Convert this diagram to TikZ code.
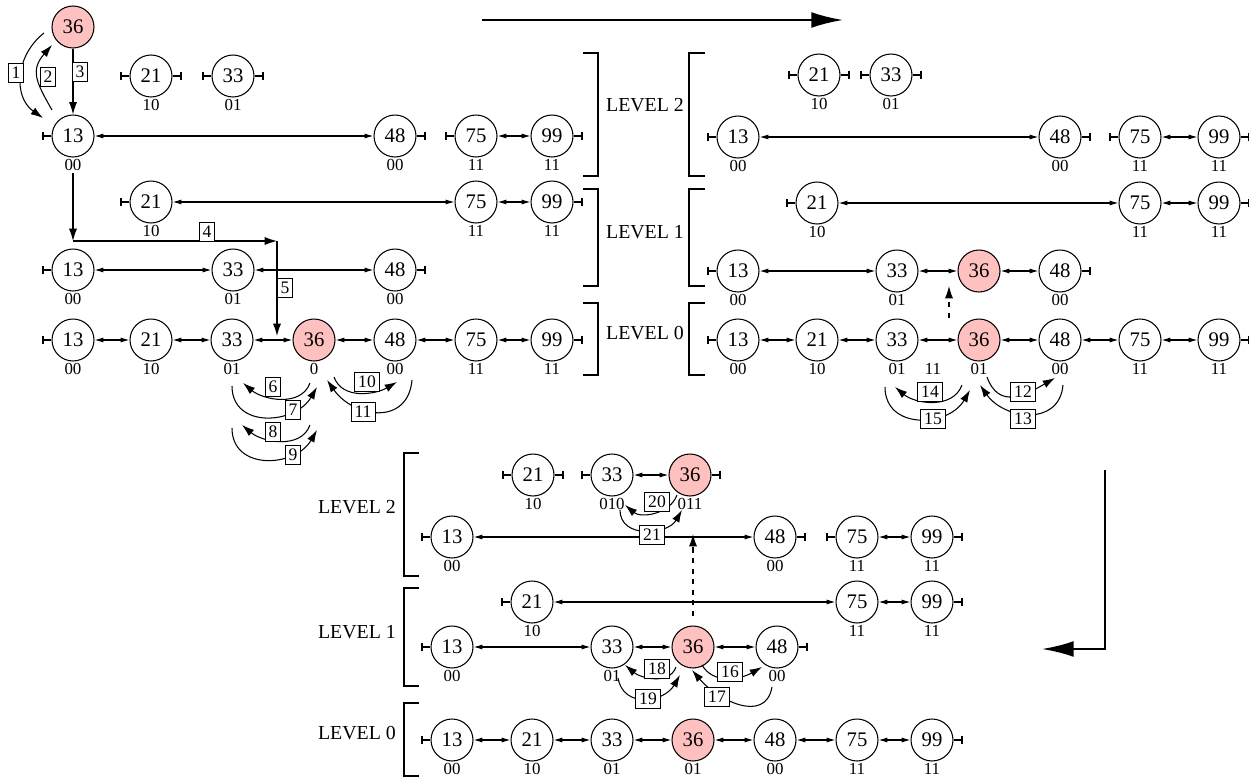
\documentclass[tikz,border=0pt]{standalone}
\usepackage{fontspec}
\setmainfont{Liberation Serif}
\usetikzlibrary{arrows.meta,calc}
\definecolor{hitpink}{RGB}{255,192,192}
\tikzset{
  key/.style={circle,draw,line width=0.6pt,minimum size=0.84cm,inner sep=0pt,font=\fontsize{11.8}{12}\selectfont},
  hit/.style={key,fill=hitpink},
  lab/.style={font=\fontsize{9.6}{10}\selectfont,inner sep=0.6pt},
  tag/.style={draw,fill=white,line width=0.5pt,inner sep=2pt,font=\fontsize{10}{10}\selectfont},
  lvl/.style={font=\fontsize{11.3}{12}\selectfont},
  link/.style={line width=0.6pt,{Latex[length=5pt,width=2.8pt]}-{Latex[length=5pt,width=2.8pt]}},
  move/.style={line width=0.6pt,-{Latex[length=7pt,width=4.6pt]}},
  lift/.style={move,dash pattern=on 3pt off 3pt},
  big/.style={line width=1.2pt,-{Latex[length=18pt,width=9pt]}},
  lend/.style={line width=0.6pt,-{Bar[width=5pt]}},
  brace/.style={line width=0.6pt}
}
\begin{document}
\begin{tikzpicture}[x=0.02cm,y=-0.02cm]
\useasboundingbox (0,0) rectangle (1249,781);
% left panel
\node[hit] (Ltop36) at (73,27) {36};
\node[key,label={[lab]below:10}] (La21) at (151,76) {21};
\node[key,label={[lab]below:01}] (La33) at (233,76) {33};
\node[key,label={[lab]below:00}] (Lb13) at (73,136) {13};
\node[key,label={[lab]below:00}] (Lb48) at (395,136) {48};
\node[key,label={[lab]below:11}] (Lb75) at (476,136) {75};
\node[key,label={[lab]below:11}] (Lb99) at (552,136) {99};
\node[key,label={[lab]below:10}] (Lc21) at (151,202) {21};
\node[key,label={[lab]below:11}] (Lc75) at (476,202) {75};
\node[key,label={[lab]below:11}] (Lc99) at (552,202) {99};
\node[key,label={[lab]below:00}] (Ld13) at (73,270) {13};
\node[key,label={[lab]below:01}] (Ld33) at (233,270) {33};
\node[key,label={[lab]below:00}] (Ld48) at (395,270) {48};
\node[key,label={[lab]below:00}] (Le13) at (73,340) {13};
\node[key,label={[lab]below:10}] (Le21) at (151,340) {21};
\node[key,label={[lab]below:01}] (Le33) at (232,340) {33};
\node[hit,label={[lab]below:0}] (Le36) at (314,340) {36};
\node[key,label={[lab]below:00}] (Le48) at (395,340) {48};
\node[key,label={[lab]below:11}] (Le75) at (476,340) {75};
\node[key,label={[lab]below:11}] (Le99) at (552,340) {99};
% right panel
\node[key,label={[lab]below:10}] (Ra21) at (819,75) {21};
\node[key,label={[lab]below:01}] (Ra33) at (891,75) {33};
\node[key,label={[lab]below:00}] (Rb13) at (738,137) {13};
\node[key,label={[lab]below:00}] (Rb48) at (1060,137) {48};
\node[key,label={[lab]below:11}] (Rb75) at (1140,137) {75};
\node[key,label={[lab]below:11}] (Rb99) at (1219,137) {99};
\node[key,label={[lab]below:10}] (Rc21) at (817,203) {21};
\node[key,label={[lab]below:11}] (Rc75) at (1140,203) {75};
\node[key,label={[lab]below:11}] (Rc99) at (1219,203) {99};
\node[key,label={[lab]below:00}] (Rd13) at (738,271) {13};
\node[key,label={[lab]below:01}] (Rd33) at (897,271) {33};
\node[hit] (Rd36) at (979,271) {36};
\node[key,label={[lab]below:00}] (Rd48) at (1060,271) {48};
\node[key,label={[lab]below:00}] (Re13) at (738,340) {13};
\node[key,label={[lab]below:10}] (Re21) at (817,340) {21};
\node[key,label={[lab]below:01}] (Re33) at (897,340) {33};
\node[hit,label={[lab]below:01}] (Re36) at (979,340) {36};
\node[key,label={[lab]below:00}] (Re48) at (1060,340) {48};
\node[key,label={[lab]below:11}] (Re75) at (1140,340) {75};
\node[key,label={[lab]below:11}] (Re99) at (1219,340) {99};
\node[lab] (Rmid) at (933,369) {11};
% bottom panel
\node[key,label={[lab]below:10}] (Ba21) at (533,475) {21};
\node[key,label={[lab]below:010}] (Ba33) at (612,475) {33};
\node[hit,label={[lab]below:011}] (Ba36) at (690,475) {36};
\node[key,label={[lab]below:00}] (Bb13) at (452,537) {13};
\node[key,label={[lab]below:00}] (Bb48) at (775,537) {48};
\node[key,label={[lab]below:11}] (Bb75) at (857,537) {75};
\node[key,label={[lab]below:11}] (Bb99) at (932,537) {99};
\node[key,label={[lab]below:10}] (Bc21) at (532,602) {21};
\node[key,label={[lab]below:11}] (Bc75) at (857,602) {75};
\node[key,label={[lab]below:11}] (Bc99) at (932,602) {99};
\node[key,label={[lab]below:00}] (Bd13) at (452,647) {13};
\node[key,label={[lab]below:01}] (Bd33) at (612,647) {33};
\node[hit] (Bd36) at (693,647) {36};
\node[key,label={[lab]below:00}] (Bd48) at (777,647) {48};
\node[key,label={[lab]below:00}] (Be13) at (452,740) {13};
\node[key,label={[lab]below:10}] (Be21) at (532,740) {21};
\node[key,label={[lab]below:01}] (Be33) at (612,740) {33};
\node[hit,label={[lab]below:01}] (Be36) at (693,740) {36};
\node[key,label={[lab]below:00}] (Be48) at (775,740) {48};
\node[key,label={[lab]below:11}] (Be75) at (857,740) {75};
\node[key,label={[lab]below:11}] (Be99) at (932,740) {99};
% list links and end bars
\foreach \a/\b in {Lb13/Lb48,Lb75/Lb99,Lc21/Lc75,Lc75/Lc99,Ld13/Ld33,Ld33/Ld48,Le13/Le21,Le21/Le33,Le33/Le36,Le36/Le48,Le48/Le75,Le75/Le99,
  Rb13/Rb48,Rb75/Rb99,Rc21/Rc75,Rc75/Rc99,Rd13/Rd33,Rd33/Rd36,Rd36/Rd48,Re13/Re21,Re21/Re33,Re33/Re36,Re36/Re48,Re48/Re75,Re75/Re99,
  Ba33/Ba36,Bb13/Bb48,Bb75/Bb99,Bc21/Bc75,Bc75/Bc99,Bd13/Bd33,Bd33/Bd36,Bd36/Bd48,Be13/Be21,Be21/Be33,Be33/Be36,Be36/Be48,Be48/Be75,Be75/Be99}
  \draw[link] (\a) -- (\b);
\foreach \n in {La21,La33,Lb13,Lb75,Lc21,Ld13,Le13,Ra21,Ra33,Rb13,Rb75,Rc21,Rd13,Re13,Ba21,Ba33,Bb13,Bb75,Bc21,Bd13,Be13}
  \draw[lend] (\n.west) -- ++(-9,0);
\foreach \n in {La21,La33,Lb48,Lb99,Lc99,Ld48,Le99,Ra21,Ra33,Rb48,Rb99,Rc99,Rd48,Re99,Ba21,Ba36,Bb48,Bb99,Bc99,Bd48,Be99}
  \draw[lend] (\n.east) -- ++(9,0);
% search path, left panel
\draw[move] ([shift={(-29,6)}]Ltop36.center) to[out=218,in=145,looseness=1.1] ([shift={(-30,-18)}]Lb13.center);
\draw[move] ([shift={(-21,-26)}]Lb13.center) to[out=120,in=229,looseness=1.3] ([shift={(-21,18)}]Ltop36.center);
\draw[move] (Ltop36) -- (Lb13);
\coordinate (turnA) at ([shift={(0,105)}]Lb13.center);
\coordinate (drop) at ([shift={(45,-4)}]Le33.center);
\coordinate (turnB) at (drop |- turnA);
\draw[move] ([shift={(0,37)}]Lb13.center) -- (turnA);
\draw[move] (turnA) -- (turnB);
\draw[move] (turnB) -- (drop);
\draw[move] ([shift={(-4,43)}]Le36.center) to[out=-110,in=-40] ([shift={(11,43)}]Le33.center);
\draw[move] ([shift={(0,46)}]Le33.center) to[out=-90,in=-120,looseness=1.3] ([shift={(3,47)}]Le36.center);
\draw[move] ([shift={(-4,85)}]Le36.center) to[out=-110,in=-40] ([shift={(10,85)}]Le33.center);
\draw[move] ([shift={(0,88)}]Le33.center) to[out=-90,in=-120,looseness=1.3] ([shift={(3,90)}]Le36.center);
\draw[move] ([shift={(20,37)}]Le36.center) to[out=-70,in=-150] ([shift={(2,42)}]Le48.center);
\draw[move] ([shift={(17,40)}]Le48.center) to[out=-95,in=-55,looseness=1.4] ([shift={(13,40)}]Le36.center);
\node[tag] (t1) at (16,73) {1};
\node[tag] (t2) at (48,77) {2};
\node[tag] (t3) at (80,72) {3};
\node[tag] (t4) at (207,232) {4};
\node[tag] (t5) at (285,288) {5};
\node[tag] (t6) at (273,387) {6};
\node[tag] (t7) at (293,410) {7};
\node[tag] (t8) at (273,432) {8};
\node[tag] (t9) at (293,455) {9};
\node[tag] (t10) at (367,382) {10};
\node[tag] (t11) at (363,412) {11};
% right panel
\draw[lift] ([shift={(-30,-22)}]Re36.center) -- ([shift={(-30,15)}]Rd36.center);
\draw[move] ([shift={(8,37)}]Re36.center) to[out=-70,in=-150,looseness=1.3] ([shift={(-5,38)}]Re48.center);
\draw[move] ([shift={(3,45)}]Re48.center) to[out=-95,in=-55,looseness=1.3] ([shift={(1,45)}]Re36.center);
\draw[move] ([shift={(-17,45)}]Re36.center) to[out=-110,in=-40] ([shift={(-2,47)}]Re33.center);
\draw[move] ([shift={(-12,47)}]Re33.center) to[out=-90,in=-120,looseness=1.3] ([shift={(-9,50)}]Re36.center);
\node[tag] (t12) at (1023,392) {12};
\node[tag] (t13) at (1023,419) {13};
\node[tag] (t14) at (930,392) {14};
\node[tag] (t15) at (933,419) {15};
% bottom panel
\draw[lift] ([shift={(0,-31)}]Bd36.center) -- ($(Bd36 |- Bb48)+(0,-3)$);
\draw[move] ([shift={(9,18)}]Bd36.center) to[out=-60,in=-150] ([shift={(-15,20)}]Bd48.center);
\draw[move] ([shift={(-5,40)}]Bd48.center) to[out=-100,in=-50,looseness=1.2] ([shift={(-1,23)}]Bd36.center);
\draw[move] ([shift={(-17,20)}]Bd36.center) to[out=-110,in=-40] ([shift={(13,18)}]Bd33.center);
\draw[move] ([shift={(6,31)}]Bd33.center) to[out=-80,in=-120,looseness=1.3] ([shift={(-13,28)}]Bd36.center);
\draw[move] ([shift={(-13,20)}]Ba36.center) to[out=-110,in=-40] ([shift={(13,30)}]Ba33.center);
\draw[move] ([shift={(8,35)}]Ba33.center) to[out=-90,in=-120,looseness=1.2] ([shift={(-8,35)}]Ba36.center);
\node[tag] (t16) at (730,672) {16};
\node[tag] (t17) at (717,697) {17};
\node[tag] (t18) at (657,669) {18};
\node[tag] (t19) at (648,699) {19};
\node[tag] (t20) at (657,502) {20};
\node[tag] (t21) at (652,535) {21};
% level brackets
\draw[brace] (583,53) -- (598,53) -- (598,176) -- (583,176);
\draw[brace] (583,189) -- (598,189) -- (598,286) -- (583,286);
\draw[brace] (583,303) -- (598,303) -- (598,375) -- (583,375);
\draw[brace] (705,53) -- (689,53) -- (689,176) -- (705,176);
\draw[brace] (705,189) -- (689,189) -- (689,286) -- (705,286);
\draw[brace] (705,303) -- (689,303) -- (689,375) -- (705,375);
\node[lvl] at (645,105) {LEVEL 2};
\node[lvl] at (645,232) {LEVEL 1};
\node[lvl] at (645,333) {LEVEL 0};
\draw[brace] (419,453) -- (404,453) -- (404,576) -- (419,576);
\draw[brace] (419,588) -- (404,588) -- (404,686) -- (419,686);
\draw[brace] (419,703) -- (404,703) -- (404,776) -- (419,776);
\node[lvl,anchor=east] at (402,507) {LEVEL 2};
\node[lvl,anchor=east] at (402,632) {LEVEL 1};
\node[lvl,anchor=east] at (402,733) {LEVEL 0};
% step arrows
\draw[big] (482,20) -- (843,20);
\draw[big] (1105,470) -- (1105,649) -- (1042,649);
\end{tikzpicture}
\end{document}
